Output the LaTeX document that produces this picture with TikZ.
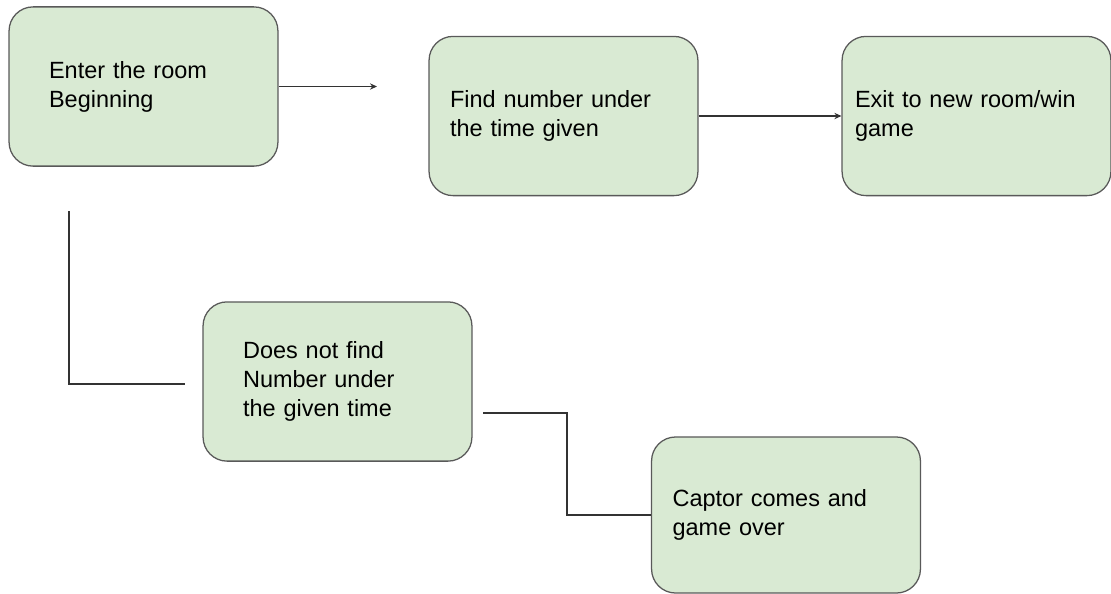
\documentclass[tikz,border=0pt]{standalone}
\usepackage{fontspec}
\setmainfont{Liberation Sans}
\usetikzlibrary{arrows.meta}
\definecolor{boxfill}{HTML}{D9EAD3}
\definecolor{boxline}{HTML}{595959}
\definecolor{linkgray}{HTML}{333333}

\begin{document}
\begin{tikzpicture}[x=0.025cm, y=-0.025cm, >={Stealth[length=5pt,width=4.5pt]},
    stage/.style={draw=boxline, fill=boxfill, line width=0.9pt, rounded corners=0.6cm,
      minimum width=6.72cm, minimum height=3.98cm, align=left, inner ysep=0pt,
      font=\fontsize{16.7}{20.6}\selectfont},
    link/.style={draw=linkgray, line width=0.9pt}]
        % --- 1. Page frame ---
        \useasboundingbox (0,0) rectangle (1111,593);

        % --- 2. Stages ---
        \node[stage, text width=4.72cm, inner xsep=1cm] (enter) at (143.5,86.5) {Enter the room\\Beginning};
        \node[stage, text width=5.67cm, inner xsep=0.525cm] (find) at (563.5,116) {Find number under\\the time given};
        \node[stage, text width=6.07cm, inner xsep=0.325cm] (exit) at (976.5,116) {Exit to new room/win\\game};
        \node[stage, text width=4.72cm, inner xsep=1cm] (miss) at (337.5,381.5) {Does not find\\Number under\\the given time};
        \node[stage, text width=5.67cm, inner xsep=0.525cm, minimum height=3.9cm] (captor) at (786,515) {Captor comes and\\game over};

        % --- 3. Loose ends ---
        \coordinate (gap) at (377,86.5);
        \coordinate (dropTop) at (69,211);
        \coordinate (dropEnd) at (185,384);
        \coordinate (stepStart) at (483,413);

        % --- 4. Connectors ---
        \draw[link,->] (enter.east) -- (gap);
        \draw[link,->] (find) -- (exit);
        \draw[link] (dropTop) |- (dropEnd);
        \draw[link] (stepStart) -- ++(84,0) |- (captor.west);

    \end{tikzpicture}
\end{document}
